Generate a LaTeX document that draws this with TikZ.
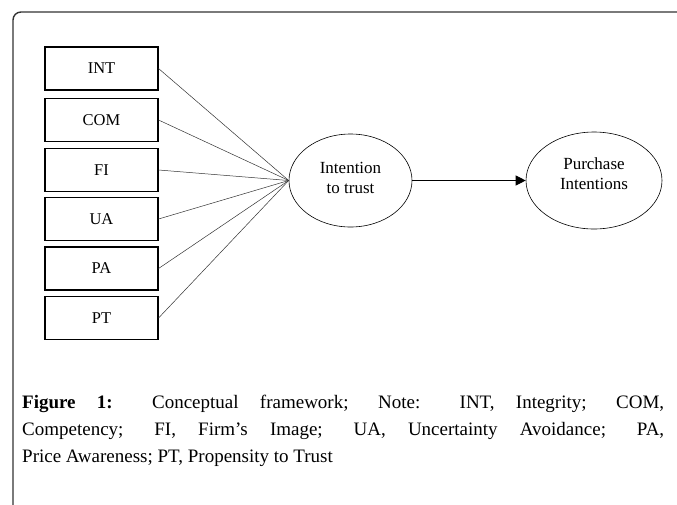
\documentclass[tikz,border=0pt]{standalone}
\usepackage{fontspec}
\setmainfont{Liberation Serif}
\usetikzlibrary{arrows.meta,shapes.geometric}
\tikzset{
  factor/.style={draw,line width=1.1pt,minimum width=113pt,minimum height=43pt,inner sep=0pt,font=\fontsize{16.5}{19}\selectfont},
  latent/.style={draw,ellipse,line width=0.6pt,align=center,inner sep=0pt,font=\fontsize{17}{20}\selectfont},
  link/.style={line width=0.5pt,draw=black!80}
}
\begin{document}
\begin{tikzpicture}[x=1pt,y=-1pt]
      \useasboundingbox (0,0) rectangle (677,504);
      \draw[line width=1.4pt,black!80,rounded corners=8pt] (13,520) -- (13,12) -- (690,12);
      \node[factor] (int) at (101.5,68.5) {INT};
      \node[factor] (com) at (101.5,120) {COM};
      \node[factor] (fi) at (101.5,170) {FI};
      \node[factor] (ua) at (101.5,219) {UA};
      \node[factor] (pa) at (101.5,268.5) {PA};
      \node[factor] (pt) at (101.5,318) {PT};
      \node[latent,minimum width=123pt,minimum height=93pt] (itt) at (350.5,180.5) {Intention\\to trust\\[-14pt]};
      \node[latent,minimum width=136pt,minimum height=97pt] (pi) at (594,180.5) {Purchase\\Intentions\\[-7pt]};
      \foreach \f in {int,com,fi,ua,pa,pt}
        \draw[link] (\f.east) -- (itt.west);
      \draw[-{Triangle[length=10pt,width=10pt]},line width=0.9pt] (itt.east) -- (pi.west);
      \node[anchor=base west,text width=642pt,align=justify,inner sep=0pt,font=\fontsize{19}{27}\selectfont] (cap) at (22,408)
        {\textbf{Figure 1:} Conceptual framework; Note: INT, Integrity; COM,\linebreak Competency; FI, Firm’s Image; UA, Uncertainty Avoidance; PA,\linebreak Price Awareness; PT, Propensity to Trust};
    \end{tikzpicture}
\end{document}
